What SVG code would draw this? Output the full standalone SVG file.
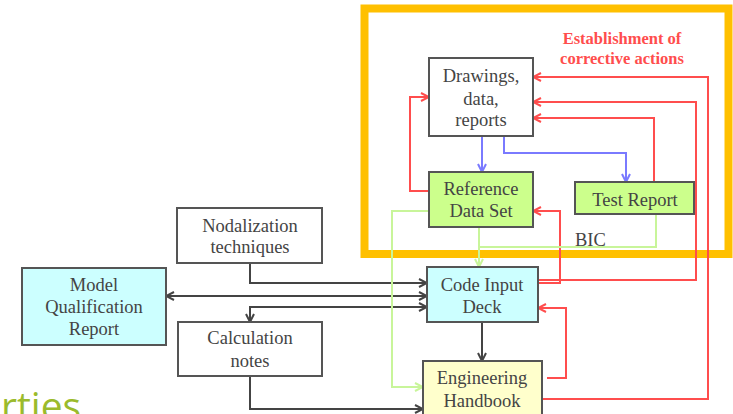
<svg xmlns="http://www.w3.org/2000/svg" width="733" height="414" viewBox="0 0 733 414">
  <defs>
    <marker id="aDark" viewBox="0 0 10 10" refX="9" refY="5" markerWidth="10" markerHeight="10" markerUnits="userSpaceOnUse" orient="auto-start-reverse">
      <path d="M1,1 L9,5 L1,9" fill="none" stroke="#444" stroke-width="2"/>
    </marker>
    <marker id="aRed" viewBox="0 0 10 10" refX="9" refY="5" markerWidth="10" markerHeight="10" markerUnits="userSpaceOnUse" orient="auto-start-reverse">
      <path d="M1,1 L9,5 L1,9" fill="none" stroke="#ff4d4d" stroke-width="2"/>
    </marker>
    <marker id="aBlue" viewBox="0 0 10 10" refX="9" refY="5" markerWidth="10" markerHeight="10" markerUnits="userSpaceOnUse" orient="auto-start-reverse">
      <path d="M1,1 L9,5 L1,9" fill="none" stroke="#7a7aff" stroke-width="2"/>
    </marker>
    <marker id="aLime" viewBox="0 0 10 10" refX="9" refY="5" markerWidth="10" markerHeight="10" markerUnits="userSpaceOnUse" orient="auto-start-reverse">
      <path d="M1,1 L9,5 L1,9" fill="none" stroke="#c8f59a" stroke-width="2"/>
    </marker>
  </defs>

  <rect width="733" height="414" fill="#fff"/>

  <!-- slide heading fragment -->
  <text x="1" y="420" font-family="Open Sans" font-size="39" fill="#9bbb2c">rties</text>

  <!-- highlight frame around the reference data loop -->
  <rect x="364.5" y="8.5" width="364" height="245.5" fill="none" stroke="#ffc000" stroke-width="8"/>

  <g id="connectors" fill="none" stroke-width="2">
    <!-- dark flows -->
    <g stroke="#444">
      <path d="M250,263 V283 H427" marker-end="url(#aDark)"/>
      <path d="M166,296 H427" marker-start="url(#aDark)" marker-end="url(#aDark)"/>
      <path d="M250,322 V307 H427" marker-start="url(#aDark)" marker-end="url(#aDark)"/>
      <path d="M250,376 V409 H423" marker-end="url(#aDark)"/>
      <path d="M482,322 V361" marker-end="url(#aDark)"/>
    </g>
    <!-- blue flows -->
    <g stroke="#7a7aff">
      <path d="M482,136 V172" marker-end="url(#aBlue)"/>
      <path d="M504,136 V153 H626 V182" marker-end="url(#aBlue)"/>
    </g>
    <!-- corrective actions (red) -->
    <g stroke="#ff4d4d">
      <path d="M429,191 H410 V97 H429" marker-end="url(#aRed)"/>
      <path d="M654,182 V118 H533" marker-end="url(#aRed)"/>
      <path d="M538,280 H696 V102 H533" marker-end="url(#aRed)"/>
      <path d="M542,399 H708 V77 H533" marker-end="url(#aRed)"/>
      <path d="M538,283 H560 V211 H533" marker-end="url(#aRed)"/>
      <path d="M547,378 H566 V308 H538" marker-end="url(#aRed)"/>
    </g>
    <!-- green flows -->
    <g stroke="#c8f59a">
      <path d="M429,211 H392 V387 H423" marker-end="url(#aLime)"/>
      <path d="M479,227 V267" marker-end="url(#aLime)"/>
      <path d="M656,214 V247 H479"/>
    </g>
  </g>

  <g font-family="Liberation Serif" font-size="18.5" fill="#444">
    <text x="575" y="246">BIC</text>
  </g>
  <g font-family="Liberation Serif" font-size="16.5" font-weight="bold" fill="#ff4d4d" text-anchor="middle">
    <text x="622" y="44">Establishment of</text>
    <text x="622" y="64">corrective actions</text>
  </g>

  <!-- nodes: shared outline and label settings -->
  <g stroke="#555" stroke-width="2">
    <rect id="box-drawings" x="429" y="58" width="104" height="78" fill="#fff"/>
    <rect id="box-reference" x="429" y="172" width="104" height="55" fill="#ccff8c"/>
    <rect id="box-test" x="575" y="182" width="119" height="32" fill="#ccff8c"/>
    <rect id="box-nodalization" x="177" y="208" width="145" height="55" fill="#fff"/>
    <rect id="box-model" x="22" y="268" width="144" height="77" fill="#ccffff"/>
    <rect id="box-calculation" x="178" y="322" width="144" height="54" fill="#fff"/>
    <rect id="box-code" x="427" y="267" width="111" height="55" fill="#ccffff"/>
    <rect id="box-handbook" x="423" y="361" width="119" height="56" fill="#ffffcc"/>
  </g>

  <g font-family="Liberation Serif" font-size="18.5" fill="#444" text-anchor="middle">
    <g id="drawings">
      <text x="481" y="82">Drawings,</text>
      <text x="481" y="105">data,</text>
      <text x="481" y="126">reports</text>
    </g>
    <g id="reference-data-set">
      <text x="481" y="195">Reference</text>
      <text x="481" y="217">Data Set</text>
    </g>
    <g id="test-report">
      <text x="635" y="206">Test Report</text>
    </g>
    <g id="nodalization">
      <text x="250" y="232">Nodalization</text>
      <text x="250" y="253">techniques</text>
    </g>
    <g id="model-qualification-report">
      <text x="94" y="291">Model</text>
      <text x="94" y="313">Qualification</text>
      <text x="94" y="335">Report</text>
    </g>
    <g id="calculation-notes">
      <text x="250" y="344">Calculation</text>
      <text x="250" y="367">notes</text>
    </g>
    <g id="code-input-deck">
      <text x="482" y="291">Code Input</text>
      <text x="482" y="313">Deck</text>
    </g>
    <g id="engineering-handbook">
      <text x="482" y="384">Engineering</text>
      <text x="482" y="407">Handbook</text>
    </g>
  </g>
</svg>
